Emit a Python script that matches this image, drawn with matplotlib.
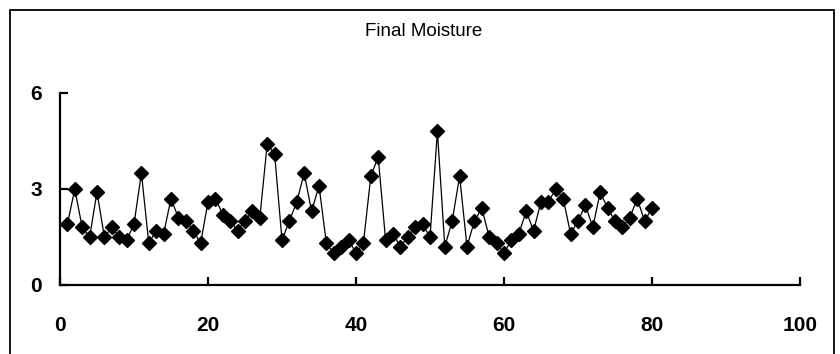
import matplotlib
matplotlib.use('Agg')
import matplotlib.pyplot as plt
from matplotlib.patches import Rectangle

plt.rcParams['font.family'] = ['Liberation Sans', 'DejaVu Sans']

# sample number and final moisture readings
sample = list(range(1, 81))
moisture = [1.9, 3.0, 1.8, 1.5, 2.9, 1.5, 1.8, 1.5, 1.4, 1.9,
            3.5, 1.3, 1.7, 1.6, 2.7, 2.1, 2.0, 1.7, 1.3, 2.6,
            2.7, 2.2, 2.0, 1.7, 2.0, 2.3, 2.1, 4.4, 4.1, 1.4,
            2.0, 2.6, 3.5, 2.3, 3.1, 1.3, 1.0, 1.2, 1.4, 1.0,
            1.3, 3.4, 4.0, 1.4, 1.6, 1.2, 1.5, 1.8, 1.9, 1.5,
            4.8, 1.2, 2.0, 3.4, 1.2, 2.0, 2.4, 1.5, 1.3, 1.0,
            1.4, 1.6, 2.3, 1.7, 2.6, 2.6, 3.0, 2.7, 1.6, 2.0,
            2.5, 1.8, 2.9, 2.4, 2.0, 1.8, 2.1, 2.7, 2.0, 2.4]
xticks = [0, 20, 40, 60, 80, 100]
yticks = [0, 3, 6]

fig = plt.figure(figsize=(8.4, 3.54), dpi=100)
ax = fig.add_axes([60/840, 1-285/354, 740/840, 192/354])

ax.plot(sample, moisture, color='black', linewidth=0.9, marker='D',
        markersize=7, markerfacecolor='black', markeredgecolor='black',
        clip_on=False)

ax.set_xlim(0, 100)
ax.set_ylim(0, 6)
ax.set_xticks(xticks)
ax.set_yticks(yticks)
ax.spines['top'].set_visible(False)
ax.spines['right'].set_visible(False)
for s in ['left', 'bottom']:
    ax.spines[s].set_linewidth(1.6)
ax.tick_params(axis='both', direction='in', length=6, width=1.6, labelsize=15)
ax.tick_params(axis='x', pad=22)
ax.tick_params(axis='y', pad=13)
for lab in ax.get_xticklabels() + ax.get_yticklabels():
    lab.set_fontweight('bold')

fig.text(424/840, 1-31.5/354, 'Final Moisture', ha='center', va='center', fontsize=13.5)

# outer frame
fig.patches.append(Rectangle((9.5/840, -0.05), 824.5/840, 1.05-9.5/354,
                             transform=fig.transFigure, fill=False,
                             edgecolor='black', linewidth=1.3))

fig.savefig('out.png', dpi=100)
